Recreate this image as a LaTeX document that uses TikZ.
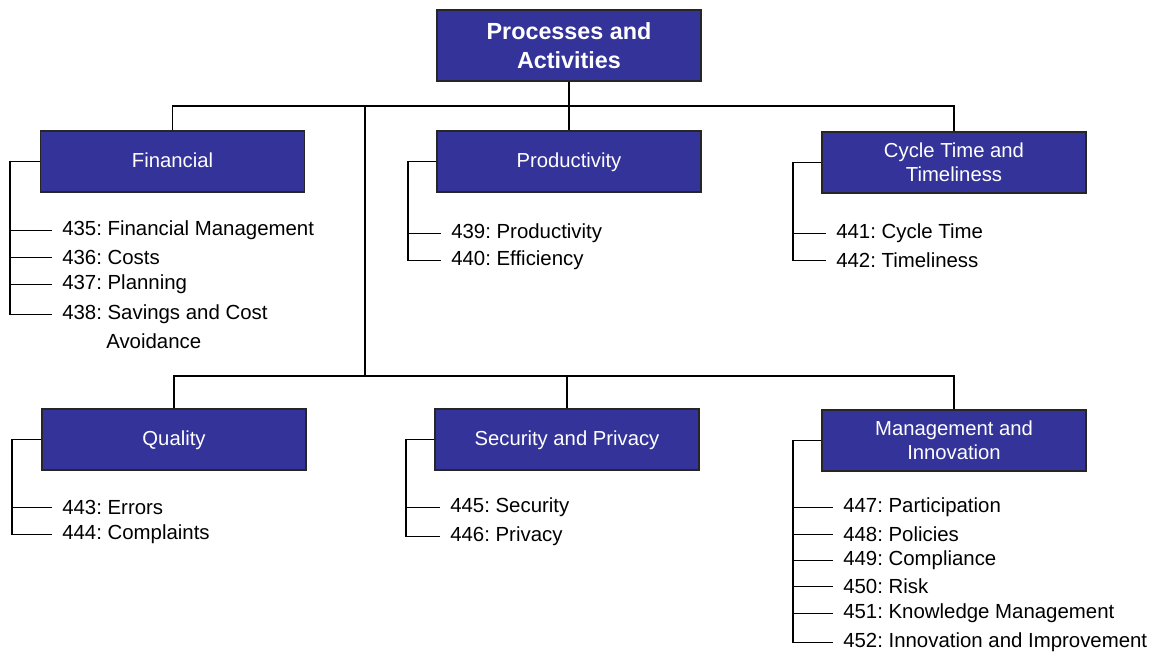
\documentclass[tikz,border=0pt]{standalone}
\usepackage{fontspec}
\setmainfont{Liberation Sans}
\frenchspacing
\definecolor{boxblue}{RGB}{51,51,153}
\newcommand{\lowtxt}[1]{\raisebox{-2.2pt}[8pt][3pt]{#1}}
\begin{document}
\begin{tikzpicture}[x=0.75pt,y=-0.75pt,
  cat/.style={draw=black!85,line width=0.9pt,fill=boxblue,text=white,
    minimum width=198pt,minimum height=45.75pt,inner sep=0pt,align=center,
    font=\fontsize{15.2}{18}\selectfont\frenchspacing},
  topbox/.style={cat,minimum height=53.25pt,font=\fontsize{17.5}{21.75}\selectfont\bfseries},
  item/.style={anchor=west,inner xsep=7.5pt,inner ysep=0pt,font=\fontsize{15.3}{18}\selectfont\frenchspacing},
  conn/.style={line width=1.1pt,black}]
\useasboundingbox (0,0) rectangle (1151,653);
% boxes
\node[topbox] (top) at (569,45.5) {Processes and\\Activities};
\node[cat] (fin) at (172.5,161.5) {\lowtxt{Financial}};
\node[cat] (prod) at (569,161.5) {\lowtxt{Productivity}};
\node[cat] (cyc) at (954,162.5) {Cycle Time and\\Timeliness};
\node[cat] (qual) at (174,439.5) {\lowtxt{Quality}};
\node[cat] (sec) at (567,439.5) {\lowtxt{Security and Privacy}};
\node[cat] (mgmt) at (954,440.5) {Management and\\Innovation};
% junction coordinates
\coordinate (j1) at (365,106);
\coordinate (j2) at (365,376);
% tree connectors
\draw[conn] (top.south) -- (prod.north);
\draw[conn] (fin.north) |- (j1) -- (top.south |- j1) -| (cyc.north);
\draw[conn] (j1) -- (j2);
\draw[conn] (qual.north) |- (j2) -- (sec.north |- j2) -| (mgmt.north);
\draw[conn] (sec.north |- j2) -- (sec.north);
% items
\node[item] (i435) at (52,230.5) {435: Financial Management};
\node[item] (i436) at (52,257.5) {436: Costs};
\node[item] (i437) at (52,284.5) {437: Planning};
\node[item] (i438) at (52,314.5) {438: Savings and Cost};
\node[item,inner xsep=0pt] (i438b) at (106,341.5) {Avoidance};
\node[item] (i439) at (441,233.5) {439: Productivity};
\node[item] (i440) at (441,260.5) {440: Efficiency};
\node[item] (i441) at (826,233.5) {441: Cycle Time};
\node[item] (i442) at (826,260.5) {442: Timeliness};
\node[item] (i443) at (52,507.5) {443: Errors};
\node[item] (i444) at (52,534.5) {444: Complaints};
\node[item] (i445) at (440,507.5) {445: Security};
\node[item] (i446) at (440,536.5) {446: Privacy};
\node[item] (i447) at (833,507.5) {447: Participation};
\node[item] (i448) at (833,534.5) {448: Policies};
\node[item] (i449) at (833,560.5) {449: Compliance};
\node[item] (i450) at (833,586.5) {450: Risk};
\node[item] (i451) at (833,613.5) {451: Knowledge Management};
\node[item] (i452) at (833,642.5) {452: Innovation and Improvement};
% bracket coordinates
\coordinate (bf) at (10,0);
\coordinate (bp) at (408,0);
\coordinate (bc) at (793,0);
\coordinate (bq) at (12,0);
\coordinate (bs) at (406,0);
\coordinate (bm) at (793,0);
% brackets
\draw[conn] (fin.west) -| (bf |- i438.west) -- (i438.west);
\foreach \i in {435,436,437} \draw[conn] (i\i.west) -- (bf |- i\i.west);
\draw[conn] (prod.west) -| (bp |- i440.west) -- (i440.west);
\draw[conn] (i439.west) -- (bp |- i439.west);
\draw[conn] (cyc.west) -| (bc |- i442.west) -- (i442.west);
\draw[conn] (i441.west) -- (bc |- i441.west);
\draw[conn] (qual.west) -| (bq |- i444.west) -- (i444.west);
\draw[conn] (i443.west) -- (bq |- i443.west);
\draw[conn] (sec.west) -| (bs |- i446.west) -- (i446.west);
\draw[conn] (i445.west) -- (bs |- i445.west);
\draw[conn] (mgmt.west) -| (bm |- i452.west) -- (i452.west);
\foreach \i in {447,448,449,450,451} \draw[conn] (i\i.west) -- (bm |- i\i.west);
\end{tikzpicture}
\end{document}
